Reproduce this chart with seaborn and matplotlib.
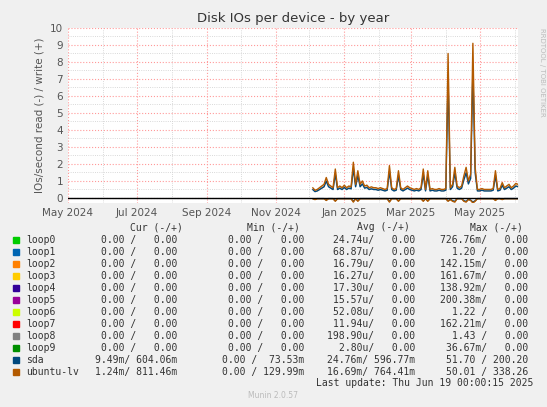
import numpy as np
import pandas as pd
import matplotlib
matplotlib.use("Agg")
import matplotlib.pyplot as plt
import matplotlib.dates as mdates
import seaborn as sns

# samples every 2 days from 2024-12-04
dates = pd.date_range("2024-12-04", periods=92, freq="2D")
lv_write = [0.6, 0.45, 0.5, 0.6, 0.7, 0.8, 1.2, 0.8, 0.7, 0.6, 1.7, 0.6, 0.7, 0.6, 0.75, 0.6,
            0.7, 0.65, 2.1, 0.8, 1.6, 0.8, 1.0, 0.7, 0.75, 0.6, 0.65, 0.6, 0.6, 0.55, 0.6, 0.55,
            0.5, 0.55, 1.9, 0.6, 0.5, 0.55, 1.6, 0.6, 0.5, 0.6, 0.7, 0.6, 0.55, 0.5, 0.55, 0.5,
            0.6, 1.7, 0.5, 1.6, 0.5, 0.55, 0.5, 0.5, 0.55, 0.5, 0.5, 0.55, 8.5, 0.6, 0.8, 1.8,
            0.7, 0.6, 0.7, 1.3, 1.8, 1.0, 1.4, 9.1, 1.8, 0.5, 0.5, 0.55, 0.5, 0.5, 0.5, 0.5,
            0.55, 1.6, 0.5, 0.55, 0.9, 0.6, 0.7, 0.8, 0.6, 0.7, 0.85, 0.8]
sda_ratio = 0.82
lv_read = [-0.05, -0.1, -0.05, -0.05, -0.05, -0.05, -0.15, -0.05, -0.05, -0.05, -0.2, -0.05,
           -0.05, -0.05, -0.05, -0.05, -0.05, -0.05, -0.25, -0.05, -0.2, -0.05, -0.05, -0.05,
           -0.05, -0.05, -0.05, -0.05, -0.05, -0.05, -0.05, -0.05, -0.05, -0.05, -0.25, -0.05,
           -0.05, -0.05, -0.2, -0.05, -0.05, -0.05, -0.05, -0.05, -0.05, -0.05, -0.05, -0.05,
           -0.05, -0.2, -0.05, -0.2, -0.05, -0.05, -0.05, -0.05, -0.05, -0.05, -0.05, -0.05,
           -0.2, -0.1, -0.2, -0.25, -0.05, -0.05, -0.05, -0.2, -0.25, -0.1, -0.15, -0.3,
           -0.2, -0.05, -0.05, -0.05, -0.05, -0.05, -0.05, -0.05, -0.05, -0.15, -0.05, -0.05,
           -0.1, -0.05, -0.05, -0.05, -0.05, -0.05, -0.05, -0.05]

legend_names = ["loop0", "loop1", "loop2", "loop3", "loop4", "loop5", "loop6", "loop7",
                "loop8", "loop9", "sda", "ubuntu-lv"]
legend_colors = ["#00CC00", "#0066B3", "#FF8000", "#FFCC00", "#330099", "#990099",
                 "#CCFF00", "#FF0000", "#808080", "#008F00", "#00487D", "#B35A00"]
cur_vals = ["0.00 /   0.00", "0.00 /   0.00", "0.00 /   0.00", "0.00 /   0.00", "0.00 /   0.00",
            "0.00 /   0.00", "0.00 /   0.00", "0.00 /   0.00", "0.00 /   0.00", "0.00 /   0.00",
            "9.49m/ 604.06m", "1.24m/ 811.46m"]
min_vals = ["0.00 /   0.00"] * 10 + ["0.00 /  73.53m", "0.00 / 129.99m"]
avg_vals = ["24.74u/   0.00", "68.87u/   0.00", "16.79u/   0.00", "16.27u/   0.00",
            "17.30u/   0.00", "15.57u/   0.00", "52.08u/   0.00", "11.94u/   0.00",
            "198.90u/   0.00", "2.80u/   0.00", "24.76m/ 596.77m", "16.69m/ 764.41m"]
max_vals = ["726.76m/   0.00", "1.20 /   0.00", "142.15m/   0.00", "161.67m/   0.00",
            "138.92m/   0.00", "200.38m/   0.00", "1.22 /   0.00", "162.21m/   0.00",
            "1.43 /   0.00", "36.67m/   0.00", "51.70 / 200.20", "50.01 / 338.26"]

df = pd.DataFrame({"date": dates, "lv": lv_write, "lv_read": lv_read})
df["sda"] = df["lv"] * sda_ratio
df["sda_read"] = df["lv_read"] * sda_ratio

sns.set_style("white")
plt.rcParams["font.family"] = ["DejaVu Sans"]
fig = plt.figure(figsize=(5.47, 4.07), dpi=100, facecolor="#F0F0F0")
ax = fig.add_axes([68 / 547, 1 - 203 / 407, 450 / 547, 175 / 407])
ax.set_facecolor("white")

ax.fill_between(df["date"], df["sda"], df["lv"], color="#B35A00", alpha=0.35, lw=0)
sns.lineplot(data=df, x="date", y="sda", color="#00487D", lw=1, ax=ax)
sns.lineplot(data=df, x="date", y="lv", color="#B35A00", lw=1, ax=ax)
sns.lineplot(data=df, x="date", y="sda_read", color="#00487D", lw=1, ax=ax)
sns.lineplot(data=df, x="date", y="lv_read", color="#B35A00", lw=1, ax=ax)
ax.axhline(0, color="black", lw=1)

ax.set_xlim(pd.Timestamp("2024-05-01"), pd.Timestamp("2025-06-04"))
ax.set_ylim(-0.3, 10)
ax.set_yticks(range(0, 11))
ax.xaxis.set_major_locator(mdates.MonthLocator(bymonth=[1, 3, 5, 7, 9, 11]))
ax.xaxis.set_major_formatter(mdates.DateFormatter("%b %Y"))
ax.xaxis.set_minor_locator(mdates.MonthLocator())
ax.yaxis.set_minor_locator(matplotlib.ticker.MultipleLocator(0.5))
ax.grid(True, which="major", color="#FF9999", ls=":", lw=0.8)
ax.grid(True, which="minor", color="#CCCCCC", ls=":", lw=0.6)
ax.tick_params(labelsize=7.5, colors="#555555", length=0)
for s in ax.spines.values():
    s.set_visible(False)
ax.set_xlabel("")
ax.set_ylabel("IOs/second read (-) / write (+)", fontsize=7.5, color="#555555")
ax.set_title("Disk IOs per device - by year", fontsize=9.5, color="#333333", pad=4)
fig.text(0.985, 0.93, "RRDTOOL / TOBI OETIKER", rotation=270, fontsize=5, color="#BBBBBB",
         va="top", ha="left")

mono = dict(family="DejaVu Sans Mono", fontsize=7, color="#333333")
y0 = 227
fig.text(130 / 547, 1 - y0 / 407, "Cur (-/+)", **mono, va="center")
fig.text(247 / 547, 1 - y0 / 407, "Min (-/+)", **mono, va="center")
fig.text(357 / 547, 1 - y0 / 407, "Avg (-/+)", **mono, va="center")
fig.text(470 / 547, 1 - y0 / 407, "Max (-/+)", **mono, va="center")
for i, name in enumerate(legend_names):
    y = 1 - (240 + i * 12) / 407
    fig.patches.append(plt.Rectangle((13 / 547, y - 3 / 407), 6 / 547, 6 / 407,
                                     transform=fig.transFigure, color=legend_colors[i]))
    fig.text(26 / 547, y, name, **mono, va="center")
    fig.text(177 / 547, y, cur_vals[i], **mono, va="center", ha="right")
    fig.text(304 / 547, y, min_vals[i], **mono, va="center", ha="right")
    fig.text(415 / 547, y, avg_vals[i], **mono, va="center", ha="right")
    fig.text(528 / 547, y, max_vals[i], **mono, va="center", ha="right")
fig.text(533 / 547, 1 - 383 / 407, "Last update: Thu Jun 19 00:00:15 2025", **mono,
         va="center", ha="right")
fig.text(0.5, 1 - 398 / 407, "Munin 2.0.57", fontsize=5.5, color="#BBBBBB", ha="center")

fig.savefig("out.png", dpi=100, facecolor=fig.get_facecolor())
